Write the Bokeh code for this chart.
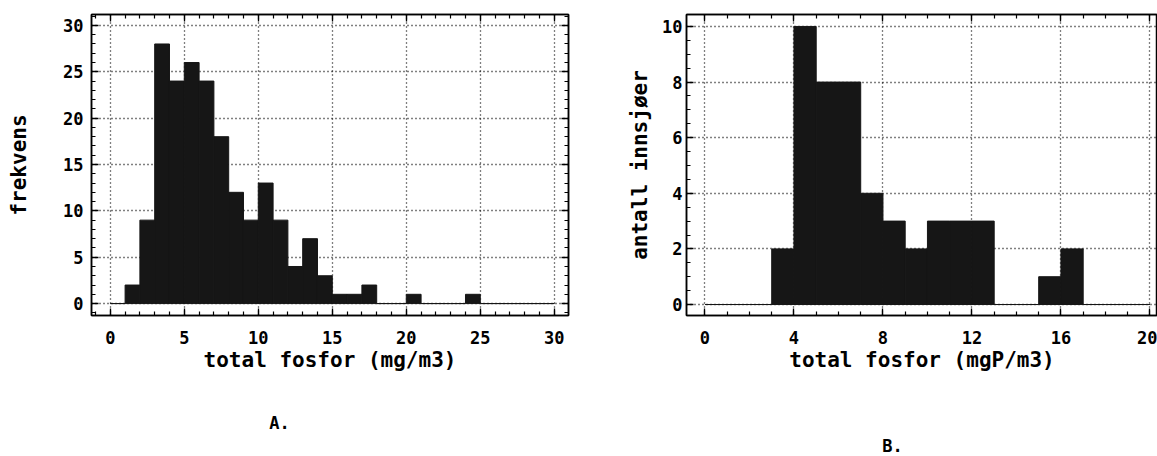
from bokeh.plotting import figure
from bokeh.layouts import row, column
from bokeh.models import LinearAxis, SingleIntervalTicker, Range1d, CustomJSTickFormatter
from bokeh.core.properties import value
from bokeh.embed import file_html
from bokeh.resources import INLINE

# ---- data ----
bins_a_left = list(range(0, 30))
counts_a = [0, 2, 9, 28, 24, 26, 24, 18, 12, 9, 13, 9, 4, 7, 3, 1, 1, 2, 0, 0,
            1, 0, 0, 0, 1, 0, 0, 0, 0, 0]
bins_b_left = list(range(0, 20))
counts_b = [0, 0, 0, 2, 10, 8, 8, 4, 3, 2, 3, 3, 3, 0, 0, 1, 2, 0, 0, 0]

xlabel_a = "total fosfor (mg/m3)"
ylabel_a = "frekvens"
xlabel_b = "total fosfor (mgP/m3)"
ylabel_b = "antall innsjøer"
tags = ["A.", "B."]

FONT = "DejaVu Sans Mono"
BAR = "#161616"


def style_axis(ax, interval, nminor, show_labels=True, standoff=8):
    ax.ticker = SingleIntervalTicker(interval=interval, num_minor_ticks=nminor)
    ax.axis_line_color = "black"
    ax.axis_line_width = 1.5
    ax.major_tick_in = 7
    ax.major_tick_out = 0
    ax.minor_tick_in = 4
    ax.minor_tick_out = 0
    ax.major_tick_line_color = "black"
    ax.minor_tick_line_color = "black"
    ax.major_tick_line_width = 1.3
    ax.minor_tick_line_width = 1.2
    ax.major_label_text_font = FONT
    ax.major_label_text_font_style = "bold"
    ax.major_label_text_color = "black"
    ax.axis_label_text_font = FONT
    ax.axis_label_text_font_style = "bold"
    ax.axis_label_text_font_size = "21px"
    ax.axis_label_text_color = "black"
    if show_labels:
        ax.major_label_text_font_size = "17px"
        ax.major_label_standoff = standoff
    else:
        ax.formatter = CustomJSTickFormatter(code="return ''")
        ax.major_label_text_font_size = "1px"
        ax.major_label_standoff = 0


def make_fig(width, height, xr, yr, left, right, top, bottom):
    p = figure(width=width, height=height, output_backend="svg", toolbar_location=None,
               x_range=Range1d(*xr), y_range=Range1d(*yr),
               min_border_left=left, min_border_right=right,
               min_border_top=top, min_border_bottom=bottom,
               background_fill_color="white", border_fill_color="white")
    p.outline_line_color = "black"
    p.outline_line_width = 1.5
    return p


def style_grid(p, xint, yint):
    for g in (p.xgrid[0], p.ygrid[0]):
        g.grid_line_color = "black"
        g.grid_line_dash = "1 3"
        g.grid_line_width = 1.3
    p.xgrid[0].ticker = SingleIntervalTicker(interval=xint)
    p.ygrid[0].ticker = SingleIntervalTicker(interval=yint)


H1 = 380

# ---------- chart A ----------
pa = make_fig(612, H1, (-1.27, 30.96), (-1.286, 31.18), 91, 44, 14, 63)
pa.quad(left=bins_a_left, right=[b + 1 for b in bins_a_left], bottom=0, top=counts_a,
        fill_color=BAR, line_color=BAR, line_width=1)
style_axis(pa.xaxis[0], 5, 5, standoff=15)
style_axis(pa.yaxis[0], 5, 5, standoff=8)
pa.xaxis[0].axis_label = xlabel_a
pa.xaxis[0].axis_label_standoff = 1
pa.yaxis[0].axis_label = ylabel_a
pa.yaxis[0].axis_label_standoff = 29
ta = LinearAxis(); style_axis(ta, 5, 5, show_labels=False); pa.add_layout(ta, "above")
ra = LinearAxis(); style_axis(ra, 5, 5, show_labels=False); pa.add_layout(ra, "right")
style_grid(pa, 5, 5)

# ---------- chart B ----------
pb = make_fig(545, H1, (-0.83, 20.34), (-0.395, 10.43), 74, 0, 14, 65)
pb.quad(left=bins_b_left, right=[b + 1 for b in bins_b_left], bottom=0, top=counts_b,
        fill_color=BAR, line_color=BAR, line_width=1)
style_axis(pb.xaxis[0], 4, 4, standoff=15)
style_axis(pb.yaxis[0], 2, 4, standoff=4)
pb.xaxis[0].axis_label = xlabel_b
pb.xaxis[0].axis_label_standoff = 1
pb.yaxis[0].axis_label = ylabel_b
pb.yaxis[0].axis_label_standoff = 7
tb = LinearAxis(); style_axis(tb, 4, 4, show_labels=False); pb.add_layout(tb, "above")
style_grid(pb, 4, 2)

# ---------- panel tags (A., B.) below the charts ----------
H2 = 456 - H1
pt = figure(width=1157, height=H2, output_backend="svg", toolbar_location=None,
            x_range=Range1d(0, 1157), y_range=Range1d(0, H2),
            min_border=0, background_fill_color="white", border_fill_color="white")
pt.axis.visible = False
pt.grid.visible = False
pt.outline_line_color = None
pt.text(x=[279, 892], y=[34, 11], text=tags, text_font=value(FONT),
        text_font_style="bold", text_font_size="17px", text_color="black",
        text_align="center", text_baseline="middle")

layout = column(row(pa, pb), pt)
open("out.html", "w").write(file_html(layout, INLINE))
